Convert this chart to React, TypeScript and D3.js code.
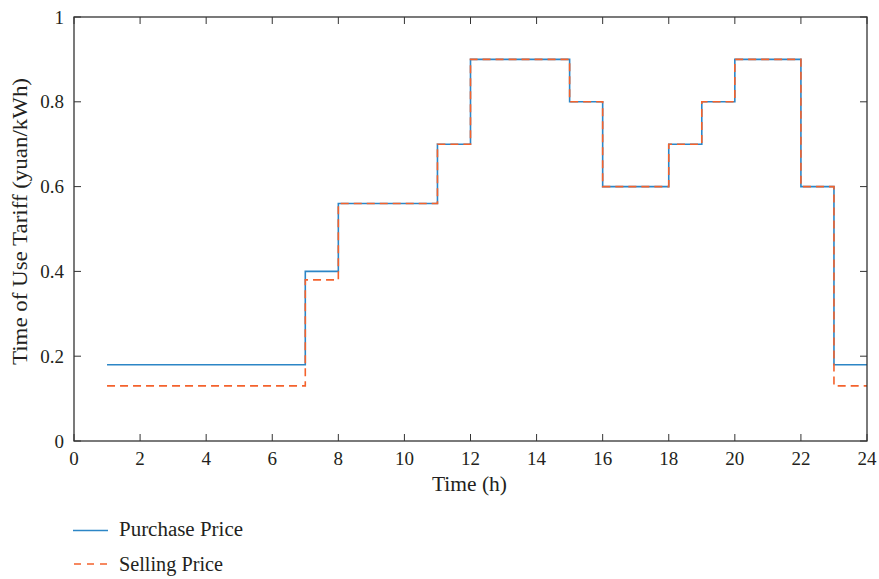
import React from "react";
import * as d3 from "d3";

const hours = [1, 2, 3, 4, 5, 6, 7, 8, 9, 10, 11, 12, 13, 14, 15, 16, 17, 18, 19, 20, 21, 22, 23, 24];
const purchasePrice = [0.18, 0.18, 0.18, 0.18, 0.18, 0.18, 0.40, 0.56, 0.56, 0.56, 0.70, 0.90, 0.90, 0.90, 0.80, 0.60, 0.60, 0.70, 0.80, 0.90, 0.90, 0.60, 0.18, 0.18];
const sellingPrice = [0.13, 0.13, 0.13, 0.13, 0.13, 0.13, 0.38, 0.56, 0.56, 0.56, 0.70, 0.90, 0.90, 0.90, 0.80, 0.60, 0.60, 0.70, 0.80, 0.90, 0.90, 0.60, 0.13, 0.13];
const xTicks = [0, 2, 4, 6, 8, 10, 12, 14, 16, 18, 20, 22, 24];
const yTicks = [0, 0.2, 0.4, 0.6, 0.8, 1];
const seriesNames = ["Purchase Price", "Selling Price"];

const W = 879, H = 579;
const M = { left: 74, right: 867, top: 17, bottom: 441 };
const FONT = "'Liberation Serif', 'DejaVu Serif', serif";
const BLUE = "#2c86c6";
const ORANGE = "#f4622c";
const AXIS = "#333";
const TXT = "#231f20";

export default function App() {
  const x = d3.scaleLinear().domain([0, 24]).range([M.left, M.right]);
  const y = d3.scaleLinear().domain([0, 1]).range([M.bottom, M.top]);
  const line = d3.line<[number, number]>().x(d => x(d[0])).y(d => y(d[1])).curve(d3.curveStepAfter);
  const pPath = line(hours.map((h, i) => [h, purchasePrice[i]]) as [number, number][]) || "";
  const sPath = line(hours.map((h, i) => [h, sellingPrice[i]]) as [number, number][]) || "";
  const tl = 7;
  return (
    <svg width={W} height={H} style={{ position: "absolute", left: 0, top: 0, background: "#fff" }} fontFamily={FONT}>
      <rect x={0} y={0} width={W} height={H} fill="#fff" />
      <path d={pPath} fill="none" stroke={BLUE} strokeWidth={1.6} />
      <path d={sPath} fill="none" stroke={ORANGE} strokeWidth={1.6} strokeDasharray="8,5" />
      {xTicks.map(t => (
        <g key={"x" + t}>
          <line x1={x(t)} x2={x(t)} y1={M.bottom} y2={M.bottom - tl} stroke={AXIS} strokeWidth={1} />
          <line x1={x(t)} x2={x(t)} y1={M.top} y2={M.top + tl} stroke={AXIS} strokeWidth={1} />
          <text x={x(t)} y={M.bottom + 24} textAnchor="middle" fontSize={19} fill={TXT}>{t}</text>
        </g>
      ))}
      {yTicks.map(t => (
        <g key={"y" + t}>
          <line x1={M.left} x2={M.left + tl} y1={y(t)} y2={y(t)} stroke={AXIS} strokeWidth={1} />
          <line x1={M.right} x2={M.right - tl} y1={y(t)} y2={y(t)} stroke={AXIS} strokeWidth={1} />
          <text x={M.left - 10} y={y(t) + 6.5} textAnchor="end" fontSize={19} fill={TXT}>{String(t)}</text>
        </g>
      ))}
      <rect x={M.left} y={M.top} width={M.right - M.left} height={M.bottom - M.top} fill="none" stroke={AXIS} strokeWidth={1.3} />
      <text x={469.5} y={491} textAnchor="middle" fontSize={20} fill={TXT} textLength={75} lengthAdjust="spacingAndGlyphs">Time (h)</text>
      <text transform={`translate(27,221.5) rotate(-90)`} textAnchor="middle" fontSize={20} fill={TXT} textLength={287} lengthAdjust="spacingAndGlyphs">Time of Use Tariff (yuan/kWh)</text>
      <line x1={73} x2={108} y1={530.5} y2={530.5} stroke={BLUE} strokeWidth={1.6} />
      <text x={119} y={536} fontSize={20} fill={TXT} textLength={124} lengthAdjust="spacingAndGlyphs">{seriesNames[0]}</text>
      <line x1={74} x2={108} y1={564} y2={564} stroke={ORANGE} strokeWidth={1.6} strokeDasharray="7,6" />
      <text x={119} y={571} fontSize={20} fill={TXT} textLength={104} lengthAdjust="spacingAndGlyphs">{seriesNames[1]}</text>
    </svg>
  );
}
